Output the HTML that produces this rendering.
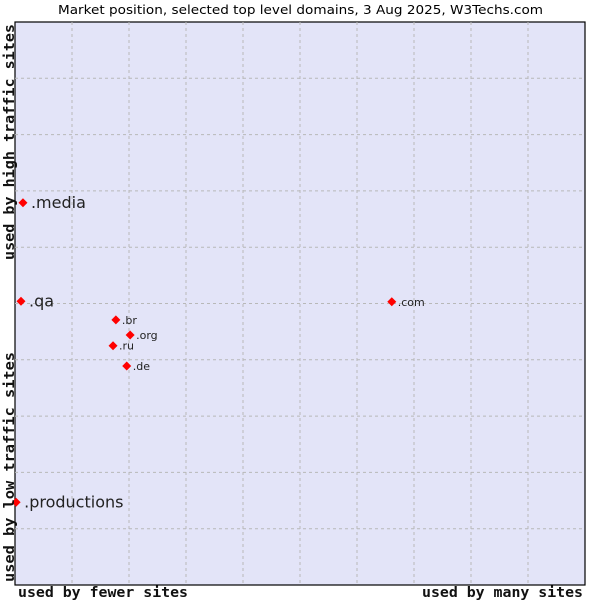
<!DOCTYPE html>
<html><head><meta charset="utf-8"><style>
body{margin:0;background:#fff;width:600px;height:600px;overflow:hidden}
svg text{font-family:"DejaVu Sans",sans-serif}
.ax{font-family:"DejaVu Sans Mono",monospace;font-size:14px;font-weight:bold;fill:#111}
</style></head><body>
<svg id="c" width="600" height="600">
<text x="58" y="14" font-size="12.5" textLength="485" lengthAdjust="spacingAndGlyphs" fill="#000">Market position, selected top level domains, 3 Aug 2025, W3Techs.com</text>
<rect x="15" y="22" width="570" height="563" fill="#e3e4f8" stroke="#000" stroke-width="1.2"/>
<g id="grid"></g>
<g id="pts"></g>
<text class="ax" x="18" y="597" textLength="170" lengthAdjust="spacingAndGlyphs">used by fewer sites</text>
<text class="ax" x="422" y="597" textLength="161" lengthAdjust="spacingAndGlyphs">used by many sites</text>
<text class="ax" transform="translate(14,260) rotate(-90)" textLength="236" lengthAdjust="spacingAndGlyphs">used by high traffic sites</text>
<text class="ax" transform="translate(14,582) rotate(-90)" textLength="230" lengthAdjust="spacingAndGlyphs">used by low traffic sites</text>
</svg>
<script>
const labels=[".media",".qa",".productions",".com",".br",".org",".ru",".de"];
const usage=[1.4,1.05,0.2,66.1,17.7,20.2,17.2,19.6];
const traffic=[67.9,50.4,14.7,50.3,47.1,44.4,42.5,38.9];
const big=[true,true,true,false,false,false,false,false];
const X0=15,W=570,Y1=585,H=563;
const sx=v=>X0+v/100*W, sy=v=>Y1-v/100*H;
const ns="http://www.w3.org/2000/svg";
const grid=document.getElementById('grid');
for(let i=1;i<10;i++){
 const v=document.createElementNS(ns,'line');
 v.setAttribute('x1',sx(i*10));v.setAttribute('x2',sx(i*10));v.setAttribute('y1',22);v.setAttribute('y2',585);
 v.setAttribute('stroke','#b8b8b8');v.setAttribute('stroke-dasharray','3,3');
 
 
 grid.appendChild(v);
 const h=document.createElementNS(ns,'line');
 h.setAttribute('y1',sy(i*10));h.setAttribute('y2',sy(i*10));h.setAttribute('x1',15);h.setAttribute('x2',585);
 h.setAttribute('stroke','#b8b8b8');h.setAttribute('stroke-dasharray','3,3');
 
 
 grid.appendChild(h);
}
const pts=document.getElementById('pts');
labels.forEach((l,i)=>{
 const x=sx(usage[i]),y=sy(traffic[i]);
 const d=document.createElementNS(ns,'polygon');
 d.setAttribute('points',`${x},${y-4.5} ${x+4.5},${y} ${x},${y+4.5} ${x-4.5},${y}`);
 d.setAttribute('fill','#f00');
 
 
 pts.appendChild(d);
 const t=document.createElementNS(ns,'text');
 t.setAttribute('x',x+(big[i]?8:6));t.setAttribute('y',y+(big[i]?5.5:4));
 t.setAttribute('font-size',big[i]?16:11);t.setAttribute('fill','#222');
 t.textContent=l;
 
 
 pts.appendChild(t);
});
</script>
</body></html>
